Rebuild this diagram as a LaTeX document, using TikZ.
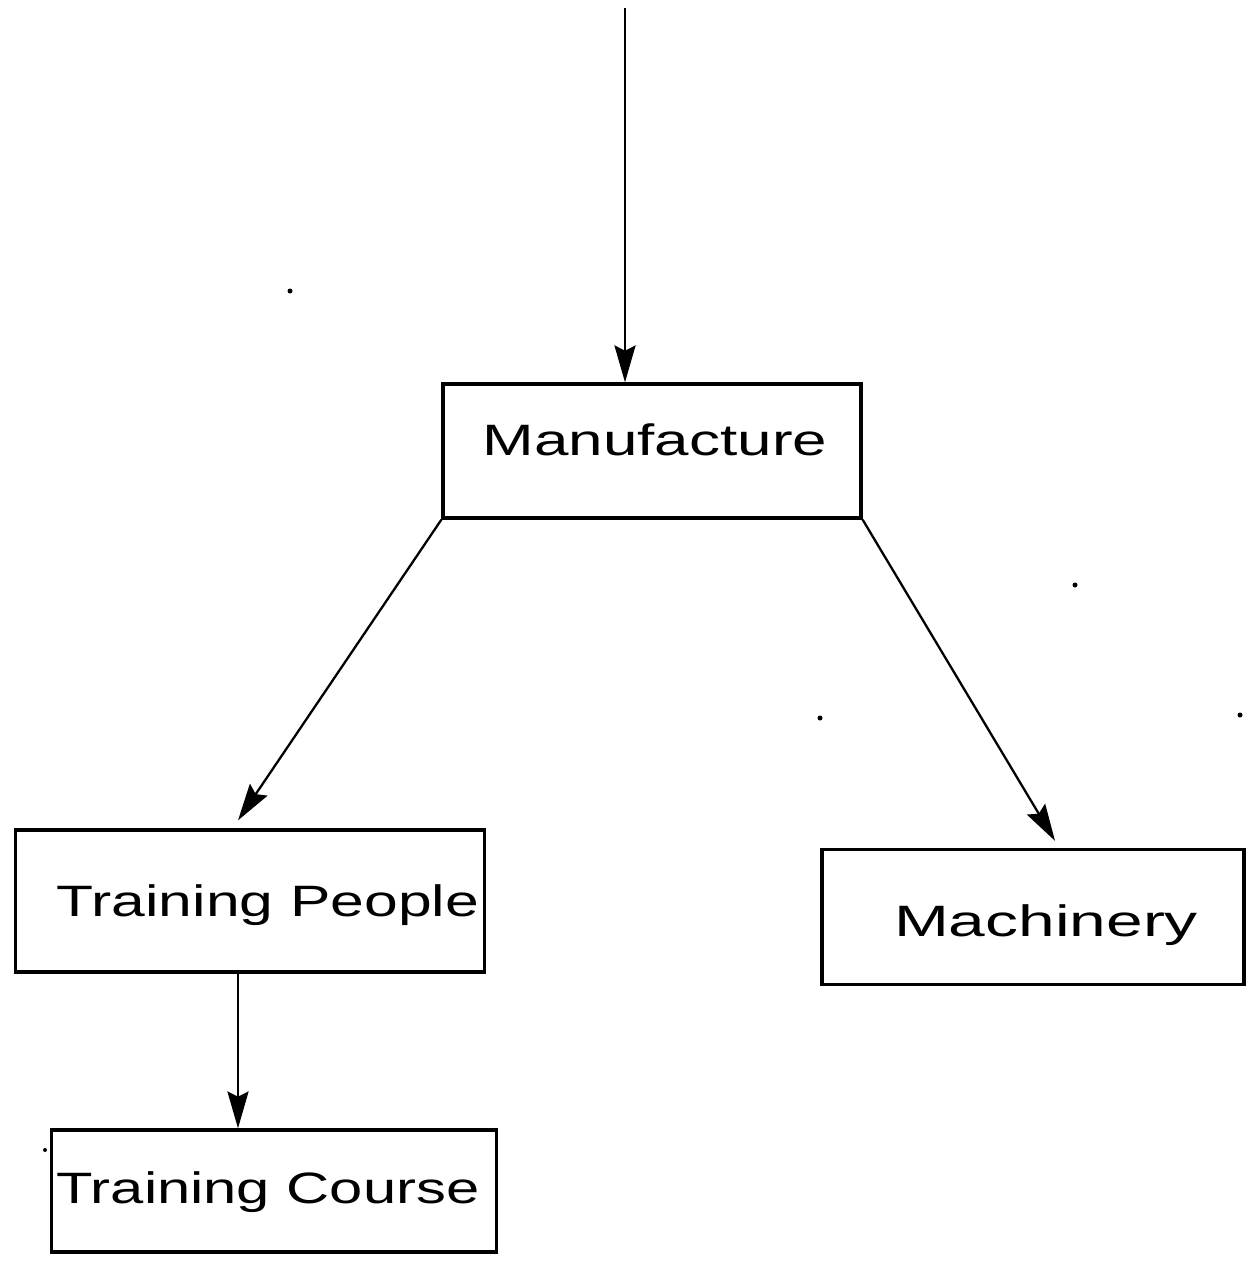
\documentclass[tikz,border=0pt]{standalone}
\usepackage{fontspec}
\setmainfont{Liberation Sans}
\usetikzlibrary{arrows.meta,calc}
\newcommand\handwide[2]{\scalebox{#1}[1]{#2}}
\begin{document}
\begin{tikzpicture}[x=0.02cm,y=-0.02cm,
  boxnode/.style={draw=black,line width=1.9pt,inner sep=0pt,fill=none},
  lbl/.style={font=\fontsize{25}{28}\selectfont},
  arr/.style={draw=black,line width=1.3pt,-{Stealth[length=21pt,width=12pt,inset=3pt]}},
  speck/.style={fill=black}]
  \useasboundingbox (0,0) rectangle (1247,1264);

  % boxes
  \node[boxnode,minimum width=8.36cm,minimum height=2.68cm] (man) at (652,451) {};
  \node[boxnode,minimum width=9.38cm,minimum height=2.84cm] (tp) at (250,901) {};
  \node[boxnode,minimum width=8.44cm,minimum height=2.70cm] (mach) at (1033,917) {};
  \node[boxnode,minimum width=8.90cm,minimum height=2.44cm] (tc) at (274,1191) {};

  % labels
  \node[lbl] (manl) at (655,440) {\handwide{1.41}{Manufacture}};
  \node[lbl] (tpl) at (268,905) {\handwide{1.38}{Training People}};
  \node[lbl] (machl) at (1046,925) {\handwide{1.5}{Machinery}};
  \node[lbl] (tcl) at (268,1192) {\handwide{1.36}{Training Course}};

  % connectors
  \coordinate (src) at (625,8);
  \draw[arr] (src) -- (src |- man.north);
  \draw[arr] (man.south west) -- ($(tp.north)+(-12,-8)$);
  \draw[arr] (man.south east) -- ($(mach.north)+(22,-7)$);
  \draw[arr] ($(tp.south)+(-12,0)$) -- ($(tc.north)+(-36,0)$);

  % specks
  \fill[speck] (290,291) circle (2.5);
  \fill[speck] (1075,585) circle (2.5);
  \fill[speck] (820,718) circle (2.5);
  \fill[speck] (1240,715) circle (2.5);
  \fill[speck] (45,1150) circle (2);
\end{tikzpicture}
\end{document}
